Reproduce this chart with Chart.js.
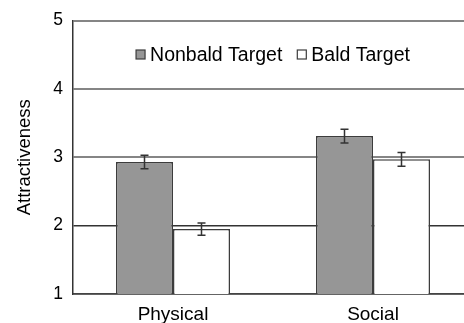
<!DOCTYPE html>
<html>
<head>
<meta charset="utf-8">
<script src="https://cdn.jsdelivr.net/npm/chart.js@4/dist/chart.umd.min.js"></script>
<style>
  html, body { margin: 0; padding: 0; background: #fff; overflow: hidden; }
  #wrap { width: 474px; height: 323px; }
</style>
</head>
<body>
<div id="wrap"><canvas id="c" width="474" height="323"></canvas></div>
<script>
// Mean attractiveness ratings by dimension and target type
const categories = ['Physical', 'Social'];
const seriesNames = ['Nonbald Target', 'Bald Target'];
const nonbaldMeans = [2.93, 3.31];
const nonbaldErrors = [0.10, 0.10];
const baldMeans = [1.95, 2.97];
const baldErrors = [0.09, 0.10];
const yTicks = [1, 2, 3, 4, 5];

const FONT = "'Liberation Sans', Arial, Helvetica, sans-serif";

// Standard-error whiskers drawn over each bar
const errorBars = {
  id: 'errorBars',
  afterDatasetsDraw(chart) {
    const ctx = chart.ctx;
    const y = chart.scales.y;
    chart.data.datasets.forEach((ds, i) => {
      const meta = chart.getDatasetMeta(i);
      meta.data.forEach((bar, j) => {
        const v = ds.data[j], e = ds.errors[j];
        const top = y.getPixelForValue(v + e);
        const bot = y.getPixelForValue(v - e);
        ctx.save();
        ctx.strokeStyle = '#333';
        ctx.lineWidth = 1.5;
        ctx.beginPath();
        ctx.moveTo(bar.x, top); ctx.lineTo(bar.x, bot);
        ctx.moveTo(bar.x - 4, top); ctx.lineTo(bar.x + 4, top);
        ctx.moveTo(bar.x - 4, bot); ctx.lineTo(bar.x + 4, bot);
        ctx.stroke();
        ctx.restore();
      });
    });
  }
};

// Legend placed inside the plot area, centred near the top
const innerLegend = {
  id: 'innerLegend',
  afterDraw(chart) {
    const ctx = chart.ctx;
    const area = chart.chartArea;
    ctx.save();
    ctx.font = '19.5px ' + FONT;
    ctx.textBaseline = 'middle';
    const box = 9, gapText = 5, gapItem = 15;
    const items = chart.data.datasets.map(ds => ({
      label: ds.label, fill: ds.backgroundColor, stroke: ds.borderColor,
      w: box + gapText + ctx.measureText(ds.label).width
    }));
    const total = items.reduce((s, it) => s + it.w, 0) + gapItem * (items.length - 1);
    let x = (area.left + area.right) / 2 - total / 2;
    const cy = area.top + 34;
    items.forEach(it => {
      ctx.fillStyle = it.fill;
      ctx.fillRect(x, cy - box / 2, box, box);
      ctx.strokeStyle = it.stroke;
      ctx.lineWidth = 1.2;
      ctx.strokeRect(x, cy - box / 2, box, box);
      ctx.fillStyle = '#000';
      ctx.fillText(it.label, x + box + gapText, cy + 1);
      x += it.w + gapItem;
    });
    ctx.restore();
  }
};

new Chart(document.getElementById('c'), {
  type: 'bar',
  data: {
    labels: categories,
    datasets: [
      { label: seriesNames[0], data: nonbaldMeans, errors: nonbaldErrors,
        backgroundColor: '#969696', borderColor: '#3c3c3c', borderWidth: 1.5 },
      { label: seriesNames[1], data: baldMeans, errors: baldErrors,
        backgroundColor: '#ffffff', borderColor: '#3c3c3c', borderWidth: 1.5 }
    ]
  },
  options: {
    responsive: false,
    animation: false,
    layout: { padding: { top: 18, right: 1, left: 0, bottom: 0 } },
    datasets: { bar: { categoryPercentage: 0.57, barPercentage: 1.0 } },
    plugins: { legend: { display: false }, tooltip: { enabled: false } },
    scales: {
      x: {
        grid: { display: false, drawTicks: false },
        border: { color: '#444', width: 1.5 },
        ticks: { color: '#000', font: { family: FONT, size: 19 }, padding: 9 },
        afterFit(s) { s.height = 29; }
      },
      y: {
        min: 1, max: 5,
        afterBuildTicks(s) { s.ticks = yTicks.map(v => ({ value: v })); },
        grid: {
          drawTicks: false,
          color: c => (c.tick && c.tick.value === 2) ? '#333' : '#858585',
          lineWidth: c => (c.tick && c.tick.value === 2) ? 1.5 : 2
        },
        border: { color: '#333', width: 1.5 },
        ticks: { color: '#000', font: { family: FONT, size: 17.5 }, padding: 10 },
        title: { display: true, text: 'Attractiveness', color: '#000',
                 font: { family: FONT, size: 18.5 }, padding: { top: 14, bottom: 0 } },
        afterFit(s) { s.width = 73; }
      }
    }
  },
  plugins: [errorBars, innerLegend]
});
</script>
</body>
</html>
